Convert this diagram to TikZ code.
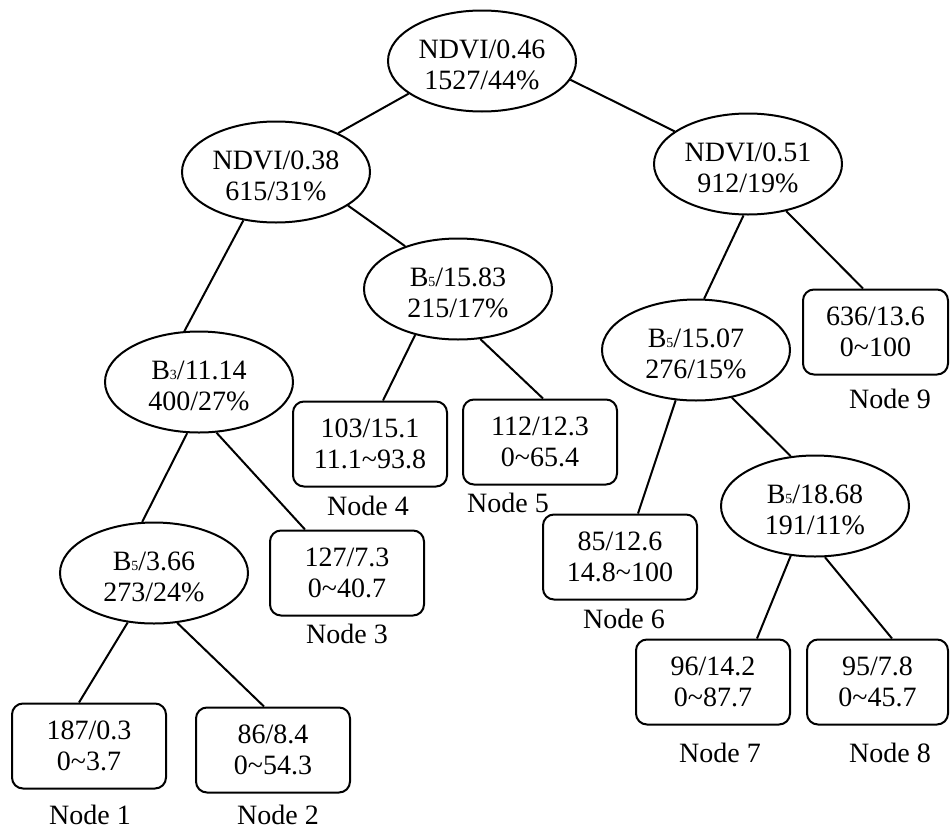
\documentclass[tikz,border=0pt]{standalone}
\usepackage{fontspec}
\setmainfont{Liberation Serif}
\usetikzlibrary{shapes.geometric}
\newcommand{\sbx}[1]{{\fontsize{14pt}{14pt}\selectfont #1}}
\newcommand{\tl}{\textasciitilde}
\newcommand{\tstrut}{\rule{0pt}{26pt}}
\begin{document}
\begin{tikzpicture}[x=1pt,y=-1pt,
  every node/.style={font=\fontsize{28pt}{31pt}\selectfont},
  split/.style={draw,line width=2pt,ellipse,minimum width=188pt,minimum height=101pt,inner sep=0pt,align=center},
  leaf/.style={draw,line width=2pt,rounded corners=11pt,minimum width=154pt,minimum height=85pt,inner sep=0pt,align=center},
  lbl/.style={anchor=base,inner sep=0pt},
  conn/.style={line width=2pt}]
\useasboundingbox (0,0) rectangle (950,830);
% split nodes
\node[split] (r) at (482,61) {\tstrut NDVI/0.46\\1527/44\%};
\node[split] (a) at (276,172) {\tstrut NDVI/0.38\\615/31\%};
\node[split] (b) at (748,164) {\tstrut NDVI/0.51\\912/19\%};
\node[split] (c) at (458,289) {\tstrut B\sbx{5}/15.83\\215/17\%};
\node[split] (d) at (199,382) {\tstrut B\sbx{3}/11.14\\400/27\%};
\node[split] (e) at (154,573) {\tstrut B\sbx{5}/3.66\\273/24\%};
\node[split] (f) at (696,350) {\tstrut B\sbx{5}/15.07\\276/15\%};
\node[split] (g) at (815,506) {\tstrut B\sbx{5}/18.68\\191/11\%};
% leaves
\node[leaf] (l1) at (89,746) {187/0.3\\0\tl3.7};
\node[leaf] (l2) at (273,750) {86/8.4\\0\tl54.3};
\node[leaf] (l3) at (347,573) {127/7.3\\0\tl40.7};
\node[leaf] (l4) at (370,444) {103/15.1\\11.1\tl93.8};
\node[leaf] (l5) at (540,442) {112/12.3\\0\tl65.4};
\node[leaf] (l6) at (620,557) {85/12.6\\14.8\tl100};
\node[leaf] (l7) at (713,682) {96/14.2\\0\tl87.7};
\node[leaf,minimum width=141pt] (l8) at (877.5,682) {95/7.8\\0\tl45.7};
\node[leaf,minimum width=145pt] (l9) at (875.5,332) {636/13.6\\0\tl100};
% labels
\node[lbl] (t1) at (90,824) {Node 1};
\node[lbl] (t2) at (278,824) {Node 2};
\node[lbl] (t3) at (347,643) {Node 3};
\node[lbl] (t4) at (368,515) {Node 4};
\node[lbl] (t5) at (508,512) {Node 5};
\node[lbl] (t6) at (624,628) {Node 6};
\node[lbl] (t7) at (720,762) {Node 7};
\node[lbl] (t8) at (890,762) {Node 8};
\node[lbl] (t9) at (890,408) {Node 9};
% connectors
\draw[conn] (r.204.7) -- (a.32.2);
\draw[conn] (r.348.7) -- (b.156.3);
\draw[conn] (a.335) -- (c.141);
\draw[conn] (a.236.6) -- (d.106);
\draw[conn] (d.257) -- (e.103);
\draw[conn] (d.289) -- ([xshift=-42pt]l3.north);
\draw[conn] (e.242.5) -- ([xshift=-10pt]l1.north);
\draw[conn] (e.295.6) -- ([xshift=-9pt]l2.north);
\draw[conn] (c.227.6) -- ([xshift=13pt]l4.north);
\draw[conn] (c.294) -- ([xshift=3pt]l5.north);
\draw[conn] (b.265.6) -- (f.81);
\draw[conn] (b.309) -- ([xshift=-12.5pt]l9.north);
\draw[conn] (f.248) -- ([xshift=18pt]l6.north);
\draw[conn] (f.307) -- (g.116);
\draw[conn] (g.244) -- ([xshift=44pt]l7.north);
\draw[conn] (g.281) -- ([xshift=14.5pt]l8.north);
\end{tikzpicture}
\end{document}
